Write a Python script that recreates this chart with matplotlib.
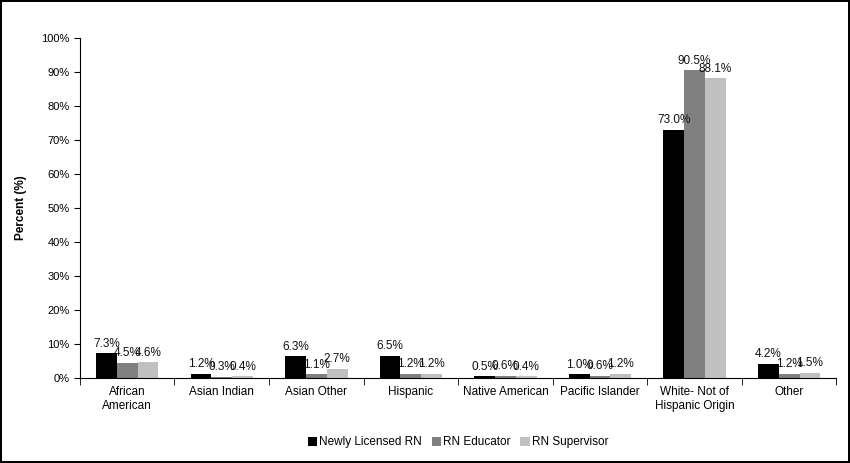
import matplotlib
matplotlib.use("Agg")
import matplotlib.pyplot as plt
import numpy as np

plt.rcParams['font.family'] = ['Liberation Sans', 'DejaVu Sans']

categories = ["African\nAmerican", "Asian Indian", "Asian Other", "Hispanic",
              "Native American", "Pacific Islander", "White- Not of\nHispanic Origin", "Other"]
series_names = ["Newly Licensed RN", "RN Educator", "RN Supervisor"]
newly = [7.3, 1.2, 6.3, 6.5, 0.5, 1.0, 73.0, 4.2]
educator = [4.5, 0.3, 1.1, 1.2, 0.6, 0.6, 90.5, 1.2]
supervisor = [4.6, 0.4, 2.7, 1.2, 0.4, 1.2, 88.1, 1.5]
colors = ["#000000", "#808080", "#c0c0c0"]

fig = plt.figure(figsize=(8.5, 4.63), dpi=100)
fig.patch.set_edgecolor("black")
fig.patch.set_linewidth(1.5)
ax = fig.add_axes([0.094, 0.184, 0.89, 0.734])

x = np.arange(len(categories))
w = 0.22
for i, (vals, name, c) in enumerate(zip([newly, educator, supervisor], series_names, colors)):
    pos = x + (i - 1) * w
    ax.bar(pos, vals, width=w, color=c, label=name)
    for p, v in zip(pos, vals):
        ax.text(p, v + 1.0, f"{v:.1f}%", ha="center", va="bottom", fontsize=8.5, color="#111111")

ax.set_xlim(-0.5, len(categories) - 0.5)
ax.set_ylim(0, 100)
ax.set_yticks(np.arange(0, 101, 10))
ax.set_yticklabels([f"{t}%" for t in range(0, 101, 10)], fontsize=8)
ax.set_xticks(x)
ax.set_xticklabels(categories, fontsize=8.5)
ax.set_xticks(np.arange(-0.5, len(categories), 1), minor=True)
ax.tick_params(axis="x", which="major", length=0, pad=6)
ax.tick_params(axis="x", which="minor", length=5, direction="out")
ax.tick_params(axis="y", length=4, direction="out")
ax.spines["top"].set_visible(False)
ax.spines["right"].set_visible(False)
ax.set_ylabel("Percent (%)", fontsize=8.5, fontweight="bold", labelpad=10)

ax.legend(loc="center", bbox_to_anchor=(0.5, -0.19), ncol=3, frameon=False,
          fontsize=8.5, handlelength=0.8, handleheight=0.8, handletextpad=0.2, columnspacing=0.8)

fig.savefig("out.png", dpi=100, edgecolor=fig.get_edgecolor())
